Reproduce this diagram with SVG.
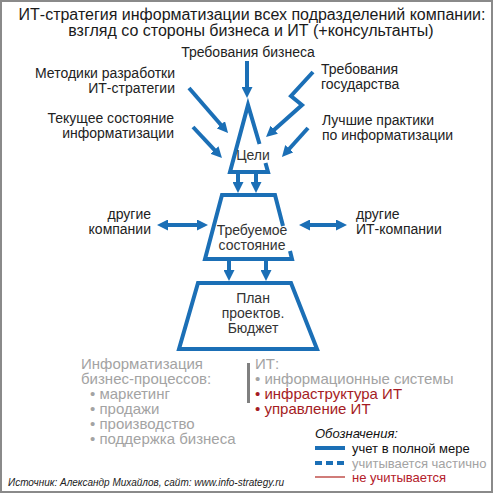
<svg xmlns="http://www.w3.org/2000/svg" width="493" height="493" viewBox="0 0 493 493">
<defs>
<marker id="ah" viewBox="0 0 11 11" refX="3" refY="5.5" markerWidth="11" markerHeight="11" markerUnits="userSpaceOnUse" orient="auto-start-reverse">
<path d="M0,0 L11,5.5 L0,11 z" fill="#1b6fb6"/>
</marker>
<style>
text{font-family:"Liberation Sans",Arial,sans-serif;}
.t{font-size:16px;fill:#1a1a1a;text-anchor:middle;}
.l{font-size:14px;fill:#222;}
.r{text-anchor:end;}
.c{text-anchor:middle;}
.in{font-size:14px;fill:#333;text-anchor:middle;}
.g{font-size:15px;fill:#a3a3a3;}
.red{fill:#a51c24;}
.ln{fill:none;stroke:#1b6fb6;stroke-width:4;}
.a{fill:none;stroke:#1b6fb6;stroke-width:4;marker-end:url(#ah);}
.aa{fill:none;stroke:#1b6fb6;stroke-width:4;marker-end:url(#ah);marker-start:url(#ah);}
.lg{font-size:13px;fill:#111;}
</style>
</defs>
<rect x="1" y="1" width="491" height="491" fill="#fff" stroke="#8a8a8a" stroke-width="2"/>
<g id="title">
<text class="t" x="252" y="20">ИТ-стратегия информатизации всех подразделений компании:</text>
<text class="t" x="251" y="36">взгляд со стороны бизнеса и ИТ (+консультанты)</text>
</g>
<g id="inputs">
<text class="l c" x="248" y="57">Требования бизнеса</text>
<text class="l r" x="175" y="78">Методики разработки</text>
<text class="l r" x="175" y="93">ИТ-стратегии</text>
<text class="l r" x="174" y="123">Текущее состояние</text>
<text class="l r" x="174" y="138">информатизации</text>
<text class="l" x="321" y="74">Требования</text>
<text class="l" x="321" y="89">государства</text>
<text class="l" x="322" y="125">Лучшие практики</text>
<text class="l" x="322" y="140">по информатизации</text>
</g>
<g id="others">
<text class="l r" x="151" y="219">другие</text>
<text class="l r" x="151" y="234">компании</text>
<text class="l" x="356" y="219">другие</text>
<text class="l" x="356" y="234">ИТ-компании</text>
</g>
<g id="goals">
<path class="ln" d="M259.5,144 L248,105 L230,172 L268,172 L265.5,163"/>
<text class="in" x="253" y="160">Цели</text>
</g>
<g id="target">
<path class="ln" d="M283,226 L275,195 L222,195 L205,259 L292,259 L290,251"/>
<text class="in" x="252" y="235">Требуемое</text>
<text class="in" x="252" y="250">состояние</text>
</g>
<g id="plan">
<path class="ln" d="M198,283 L291,283 L317,349 L179,349 Z"/>
<text class="in" x="253" y="303">План</text>
<text class="in" x="253" y="318">проектов.</text>
<text class="in" x="253" y="333">Бюджет</text>
</g>
<g id="connectors">
<path class="a" d="M247,61 L247,90"/>
<path class="a" d="M189,88 L222.8,127"/>
<path class="a" d="M193,127 L216.5,152.2"/>
<path class="a" d="M313,72 L291,96 L302,105 L272,131.7"/>
<path class="a" d="M308,128 L287.3,151"/>
<path class="a" d="M238,173 L238,185"/>
<path class="a" d="M256,173 L256,185"/>
<path class="aa" d="M165,225 L200,225"/>
<path class="aa" d="M307,225 L339,225"/>
<path class="a" d="M229,260 L229,273"/>
<path class="a" d="M266,260 L266,273"/>
</g>
<g id="business">
<text class="g" x="81" y="369">Информатизация</text>
<text class="g" x="81" y="384">бизнес-процессов:</text>
<text class="g" x="90" y="399">• маркетинг</text>
<text class="g" x="90" y="414">• продажи</text>
<text class="g" x="90" y="429">• производство</text>
<text class="g" x="90" y="444">• поддержка бизнеса</text>
</g>
<g id="it">
<rect x="247" y="363" width="3" height="40" fill="#808080"/>
<text class="g" x="255" y="369">ИТ:</text>
<text class="g" x="255" y="384">• информационные системы</text>
<text class="g red" x="255" y="399">• инфраструктура ИТ</text>
<text class="g red" x="255" y="414">• управление ИТ</text>
</g>
<g id="legend">
<text class="lg" x="315" y="438" font-style="italic">Обозначения:</text>
<line x1="315" y1="448" x2="345" y2="448" stroke="#1b6fb6" stroke-width="4"/>
<text class="lg" x="352" y="453">учет в полной мере</text>
<line x1="315" y1="463" x2="346" y2="463" stroke="#1b6fb6" stroke-width="4" stroke-dasharray="7,4"/>
<text class="lg" x="352" y="468" style="fill:#a3a3a3">учитывается частично</text>
<line x1="315" y1="477" x2="345" y2="477" stroke="#c0504d" stroke-width="1.5"/>
<text class="lg" x="352" y="482" style="fill:#b4202a">не учитывается</text>
</g>
<g id="source">
<text x="8" y="486" font-size="10" font-style="italic" fill="#222">Источник: Александр Михайлов, сайт: www.info-strategy.ru</text>
</g>
</svg>
